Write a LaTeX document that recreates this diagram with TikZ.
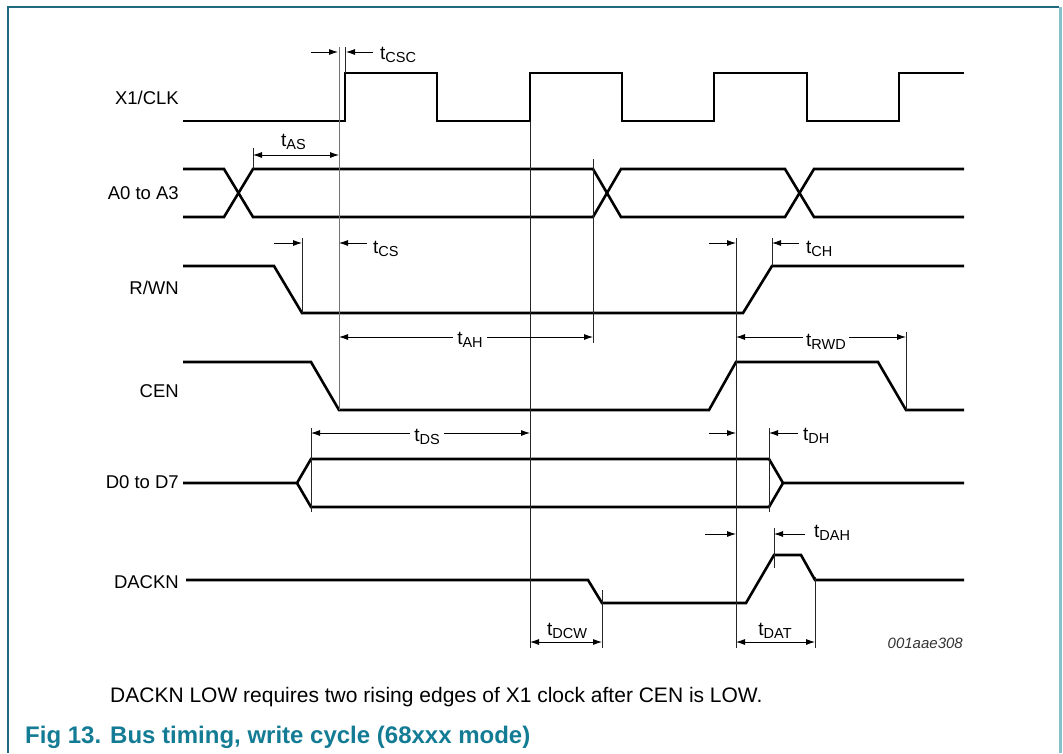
\documentclass[tikz,border=0pt]{standalone}
\usepackage{fontspec}
\setmainfont{Liberation Sans}
\usetikzlibrary{arrows.meta}
\definecolor{figteal}{HTML}{137C94}
\definecolor{framedark}{HTML}{20697F}
\definecolor{framelight}{HTML}{86C0CB}
\newcommand{\tsub}[1]{t\raisebox{-3pt}{\fontsize{14.5}{15}\selectfont #1}}

\begin{document}
\begin{tikzpicture}[x=1pt,y=-1pt,
	sig/.style={line width=2.6pt},
	guide/.style={line width=0.8pt,black!85},
	dim/.style={line width=0.8pt,-{Latex[length=9pt,width=6pt]}},
	dimboth/.style={line width=0.8pt,{Latex[length=9pt,width=6pt]}-{Latex[length=9pt,width=6pt]}},
	lbl/.style={font=\fontsize{18.5}{20}\selectfont,inner sep=0pt},
	tlbl/.style={font=\fontsize{19}{20}\selectfont,inner sep=0pt}]
	\useasboundingbox (0,0) rectangle (1063,753);
	% frame
	\draw[framedark,line width=1.5pt] (8,753) -- (8,7) -- (1059,7);
	\draw[framelight,line width=3pt] (1060.5,7) -- (1060.5,753);
	% signal names
	\node[lbl,anchor=east] (clk) at (179,98) {X1/CLK};
	\node[lbl,anchor=east] (addr) at (179,193) {A0 to A3};
	\node[lbl,anchor=east] (rwn) at (179,288) {R/WN};
	\node[lbl,anchor=east] (cen) at (179,391) {CEN};
	\node[lbl,anchor=east] (data) at (179,482) {D0 to D7};
	\node[lbl,anchor=east] (dackn) at (179,582) {DACKN};
	% waveforms
	\draw[sig] (183,121) -- (345,121) -- (345,73) -- (437,73) -- (437,121) -- (530,121) -- (530,73) -- (622,73) -- (622,121) -- (714,121) -- (714,73) -- (807,73) -- (807,121) -- (899,121) -- (899,73) -- (964,73);
	\draw[sig] (183,169) -- (224,169) -- (253,217) -- (593,217) -- (621,169) -- (785,169) -- (814,217) -- (964,217);
	\draw[sig] (183,217) -- (224,217) -- (253,169) -- (593,169) -- (621,217) -- (785,217) -- (814,169) -- (964,169);
	\draw[sig] (183,266) -- (274,266) -- (302,313) -- (743,313) -- (772,266) -- (964,266);
	\draw[sig] (183,362) -- (311,362) -- (339,410) -- (709,410) -- (736,362) -- (878,362) -- (906,410) -- (964,410);
	\draw[sig] (183,483) -- (297,483) -- (311,459) -- (769,459) -- (783,483) -- (964,483);
	\draw[sig] (297,483) -- (311,507) -- (769,507) -- (783,483);
	\draw[sig] (186,580) -- (588,580) -- (602,603) -- (746,603) -- (774,555) -- (801,555) -- (815,580) -- (964,580);
	% reference lines
	\draw[guide,black!55] (339,47) -- (339,410);
	\draw[guide] (345,47) -- (345,73);
	\draw[guide] (530,121) -- (530,648);
	\draw[guide] (736,238) -- (736,648);
	\draw[guide] (593,159) -- (593,343);
	\draw[guide] (253,148) -- (253,169);
	\draw[guide] (302,238) -- (302,313);
	\draw[guide] (772,238) -- (772,266);
	\draw[guide] (906,332) -- (906,410);
	\draw[guide] (311,428) -- (311,512);
	\draw[guide] (769,428) -- (769,512);
	\draw[guide] (774,528) -- (774,568);
	\draw[guide] (602,590) -- (602,648);
	\draw[guide] (815,577) -- (815,648);
	% timing arrows
	\draw[dim] (311,52) -- (338,52);
	\draw[dim] (373,52) -- (346,52);
	\draw[dimboth] (253,155) -- (339,155);
	\draw[dim] (274,243) -- (302,243);
	\draw[dim] (367,243) -- (339,243);
	\draw[dim] (709,243) -- (736,243);
	\draw[dim] (799,243) -- (772,243);
	\draw[dimboth] (339,337) -- (593,337);
	\draw[dimboth] (736,337) -- (906,337);
	\draw[dimboth] (311,433) -- (530,433);
	\draw[dim] (709,433) -- (736,433);
	\draw[dim] (798,433) -- (769,433);
	\draw[dim] (705,534) -- (736,534);
	\draw[dim] (805,534) -- (774,534);
	\draw[dimboth] (530,642) -- (602,642);
	\draw[dimboth] (736,642) -- (815,642);
	% timing labels
	\node[tlbl,anchor=base west] (tcsc) at (380,59) {\tsub{CSC}};
	\node[tlbl,anchor=base west] (tas) at (281,146) {\tsub{AS}};
	\node[tlbl,anchor=base west] (tcs) at (373,253) {\tsub{CS}};
	\node[tlbl,anchor=base west] (tch) at (806,253) {\tsub{CH}};
	\node[tlbl,anchor=base,fill=white,inner xsep=4pt] (tah) at (470,344) {\tsub{AH}};
	\node[tlbl,anchor=base,fill=white,inner xsep=3pt] (trwd) at (826,346) {\tsub{RWD}};
	\node[tlbl,anchor=base,fill=white,inner xsep=4pt] (tds) at (427,441) {\tsub{DS}};
	\node[tlbl,anchor=base west] (tdh) at (803,440) {\tsub{DH}};
	\node[tlbl,anchor=base west] (tdah) at (814,537) {\tsub{DAH}};
	\node[tlbl,anchor=base] (tdcw) at (567,635) {\tsub{DCW}};
	\node[tlbl,anchor=base] (tdat) at (775,635) {\tsub{DAT}};
	\node[anchor=base east,inner sep=0pt,black!80,font=\fontsize{15}{16}\selectfont\itshape] (figid) at (963,648) {001aae308};
	% note and caption
	\node[anchor=base west,inner sep=0pt,font=\fontsize{21}{22}\selectfont] (note) at (110,702) {DACKN LOW requires two rising edges of X1 clock after CEN is LOW.};
	\node[anchor=base west,inner sep=0pt,figteal,font=\fontsize{24}{25}\selectfont\bfseries] (fignum) at (25,743) {Fig 13.};
	\node[anchor=base west,inner sep=0pt,figteal,font=\fontsize{24}{25}\selectfont\bfseries] (figtitle) at (110,743) {Bus timing, write cycle (68xxx mode)};
\end{tikzpicture}
\end{document}
